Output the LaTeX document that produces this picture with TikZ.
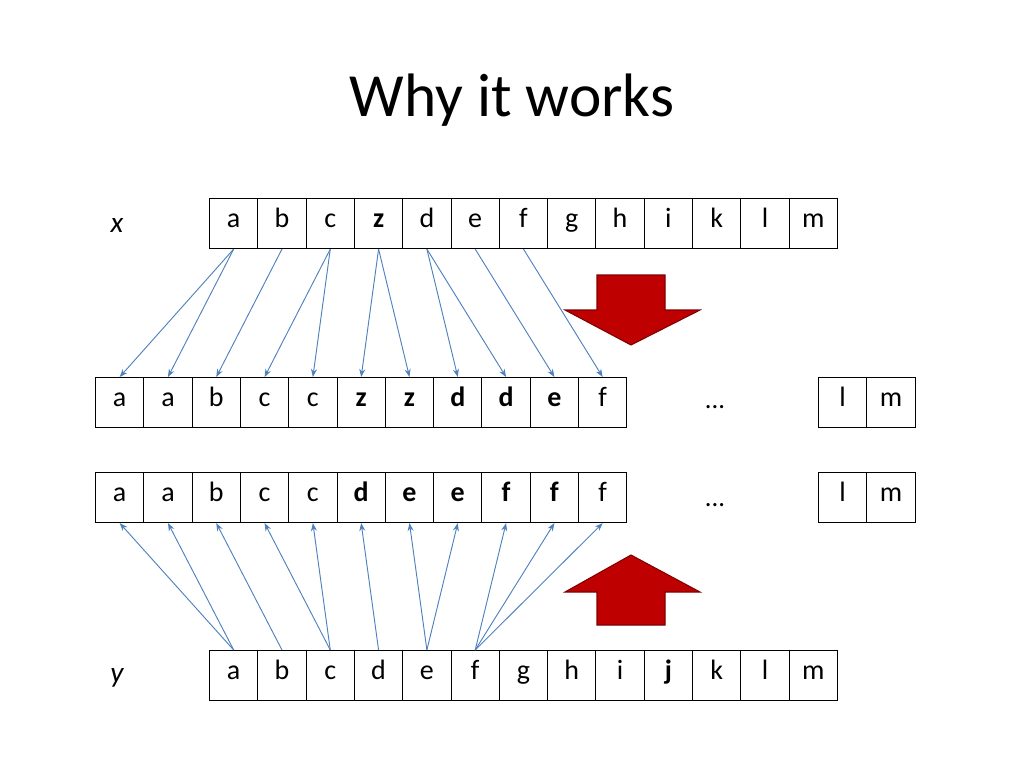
\documentclass[tikz,border=0pt]{standalone}
\usepackage{fontspec}
\setmainfont{Carlito}
\usetikzlibrary{arrows.meta}
\definecolor{con}{HTML}{4F81BD}
\begin{document}
\begin{tikzpicture}[x=0.75pt,y=-0.75pt,
 cell/.style={draw,line width=0.8pt,minimum width=48.3*0.75pt,minimum height=50*0.75pt,inner sep=0pt,text height=12pt,text depth=6pt,font=\fontsize{21}{22}\selectfont,anchor=north west},
 con/.style={draw=con,line width=0.7pt,-{Stealth[length=6pt,width=4.5pt]}},
 blk/.style={fill=red!75!black,draw=red!50!black,line width=0.8pt}]
\useasboundingbox (0,0) rectangle (1024,768);
\node[font=\fontsize{46}{50}\selectfont] (title) at (512,100) {Why it works};
\node[font=\fontsize{22}{22}\selectfont\itshape] (xl) at (117,225) {x};
\node[font=\fontsize{22}{22}\selectfont\itshape] (yl) at (117,678) {y};
\foreach \t [count=\i] in {a,b,c,\textbf{z},d,e,f,g,h,i,k,l,m}
  \node[cell] (t\i) at (209+48.3*\i-48.3,198) {\t};
\foreach \t [count=\i] in {a,b,c,d,e,f,g,h,i,\textbf{j},k,l,m}
  \node[cell] (b\i) at (209+48.3*\i-48.3,650) {\t};
\foreach \t [count=\i] in {a,a,b,c,c,\textbf{z},\textbf{z},\textbf{d},\textbf{d},\textbf{e},f}
  \node[cell] (u\i) at (95+48.3*\i-48.3,377) {\t};
\foreach \t [count=\i] in {a,a,b,c,c,\textbf{d},\textbf{e},\textbf{e},\textbf{f},\textbf{f},f}
  \node[cell] (v\i) at (95+48.3*\i-48.3,472) {\t};
\node[cell] (ul) at (818,377) {l};
\node[cell] (um) at (866.3,377) {m};
\node[cell] (vl) at (818,472) {l};
\node[cell] (vm) at (866.3,472) {m};
\node[font=\fontsize{20}{22}\selectfont] (d1) at (715,407) {...};
\node[font=\fontsize{20}{22}\selectfont] (d2) at (715,505) {...};
\foreach \s/\d in {1/1,1/2,2/3,3/4,3/5,4/6,4/7,5/8,5/9,6/10,7/11}
  \draw[con] (t\s.south) -- (u\d.north);
\foreach \s/\d in {1/1,1/2,2/3,3/4,3/5,4/6,5/7,5/8,6/9,6/10,6/11}
  \draw[con] (b\s.north) -- (v\d.south);
\draw[blk] (597,275) -- (665,275) -- (665,310) -- (700,310) -- (631,345) -- (565,310) -- (597,310) -- cycle;
\draw[blk] (597,625) -- (665,625) -- (665,592) -- (700,592) -- (631,555) -- (565,592) -- (597,592) -- cycle;
\end{tikzpicture}
\end{document}
